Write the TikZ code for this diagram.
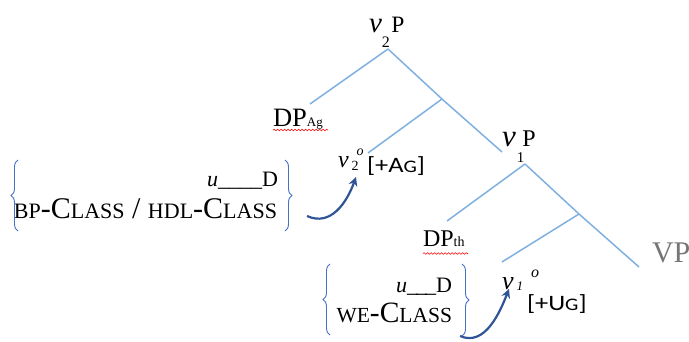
\documentclass[tikz,border=0pt]{standalone}
\usepackage{fontspec}
\usepackage{graphicx}
\setmainfont{Liberation Serif}
\newfontfamily\calfont{Carlito}
\usetikzlibrary{decorations.pathreplacing,decorations.pathmorphing,arrows.meta}
\definecolor{treeblue}{RGB}{127,176,224}
\definecolor{braceblue}{RGB}{68,114,196}
\definecolor{arrowblue}{RGB}{47,85,151}
\definecolor{vpgrey}{RGB}{118,118,118}
\newcommand\fsz[1]{\fontsize{#1}{#1}\selectfont}
\newcommand\featfont{\calfont\fsz{22}}
\tikzset{
  branch/.style={treeblue, line width=1.5pt},
  bracegrp/.style={braceblue, line width=0.9pt, decorate, decoration={brace, amplitude=7pt}},
  movearrow/.style={arrowblue, line width=2.2pt, -{Stealth[length=9pt,width=9pt]}},
  lbl/.style={inner sep=0pt, outer sep=0pt},
  spell/.style={red, line width=0.6pt, decorate, decoration={snake, amplitude=0.8pt, segment length=3.5pt}}
}
\begin{document}
\begin{tikzpicture}[x=1pt,y=-1pt]
\useasboundingbox (0,0) rectangle (689,342);
% tree junctions
\coordinate (t2) at (388,49);
\coordinate (m2) at (442,99);
\coordinate (eAg) at (310,104);
\coordinate (ev1P) at (502,152);
\coordinate (ev2) at (368,153);
\coordinate (t1) at (525,164);
\coordinate (m1) at (579,214);
\coordinate (eth) at (447,221);
\coordinate (eVP) at (639,267);
\coordinate (ev1) at (502,262);
\draw[branch] (t2) -- (eAg);
\draw[branch] (t2) -- (m2) -- (ev1P);
\draw[branch] (m2) -- (ev2);
\draw[branch] (t1) -- (eth);
\draw[branch] (t1) -- (m1) -- (eVP);
\draw[branch] (m1) -- (ev1);
% labels
\node[lbl, anchor=base west] (v2P) at (369,33) {{\fsz{29}\textit{v}}\raisebox{-15pt}{\fsz{16}2}\kern1.5pt{\fsz{23.5}P}};
\node[lbl, anchor=base west] (v1P) at (502,147) {{\fsz{31}\textit{v}}\kern1pt\raisebox{-16pt}{\fsz{15}1}\kern-2pt{\fsz{24}P}};
\node[lbl, anchor=base west, text=vpgrey] (VP) at (652,262) {\fsz{30}VP};
\node[lbl, anchor=base west] (DPag) at (273,127) {\fsz{26.5}DP{\fsz{13}Ag}};
\node[lbl, anchor=base west] (DPth) at (423,247) {\fsz{24}DP{\fsz{14}th}};
\coordinate (sq1) at (273,130);
\coordinate (sq1e) at (328,130);
\coordinate (sq2) at (423,253.5);
\coordinate (sq2e) at (468,253.5);
\draw[spell] (sq1) -- (sq1e);
\draw[spell] (sq2) -- (sq2e);
\node[lbl, anchor=base west] (v2) at (338,168) {\fsz{24}\textit{v}\kern3pt\rlap{\raisebox{13pt}{\fsz{14}\kern5pt\textit{o}}}\raisebox{-2pt}{\fsz{14}2}};
\node[lbl, anchor=base west] (v2feat) at (367,173) {\scalebox{1.2}[1]{\featfont[+A{\fsz{17.6}G}]}};
\node[lbl, anchor=base west] (v1) at (502,290) {\fsz{26}\textit{v}\kern3pt\raisebox{-1pt}{\fsz{13}\textit{1}}\kern8pt\raisebox{12pt}{\fsz{16}\textit{o}}};
\node[lbl, anchor=base west] (v1feat) at (527,310) {\scalebox{1.2}[1]{\featfont[+U{\fsz{17.6}G}]}};
% bracketed feature groups
\node[lbl, anchor=base east] (br1a) at (278,187) {\fsz{22}\textit{u}\_\_\_\_D};
\node[lbl, anchor=base east] (br1b) at (277,218.5) {\fsz{30}{\fsz{22}BP}-C{\fsz{22}LASS} / {\fsz{22}HDL}-C{\fsz{22}LASS}};
\node[lbl, anchor=base east] (br2a) at (452,292) {\fsz{22}\textit{u}\_\kern-2pt\_\kern-2pt\_D};
\node[lbl, anchor=base east] (br2b) at (452,322) {\fsz{29.5}{\fsz{21.5}WE}-C{\fsz{21.5}LASS}};
\draw[bracegrp] (18,231) coordinate (b1l) -- (18,160) coordinate (b1lt);
\draw[bracegrp] (285,160) coordinate (b1r) -- (285,231) coordinate (b1rb);
\draw[bracegrp] (330,335) coordinate (b2l) -- (330,264) coordinate (b2lt);
\draw[bracegrp] (462,264) coordinate (b2r) -- (462,336) coordinate (b2rb);
% movement arrows
\coordinate (a1s) at (307,216);
\coordinate (a1e) at (356,177);
\coordinate (a2s) at (460,336);
\coordinate (a2e) at (509,289);
\draw[movearrow] (a1s) .. controls (331,227) and (347,202) .. (a1e);
\draw[movearrow] (a2s) .. controls (485,347) and (500,312) .. (a2e);
\end{tikzpicture}
\end{document}
